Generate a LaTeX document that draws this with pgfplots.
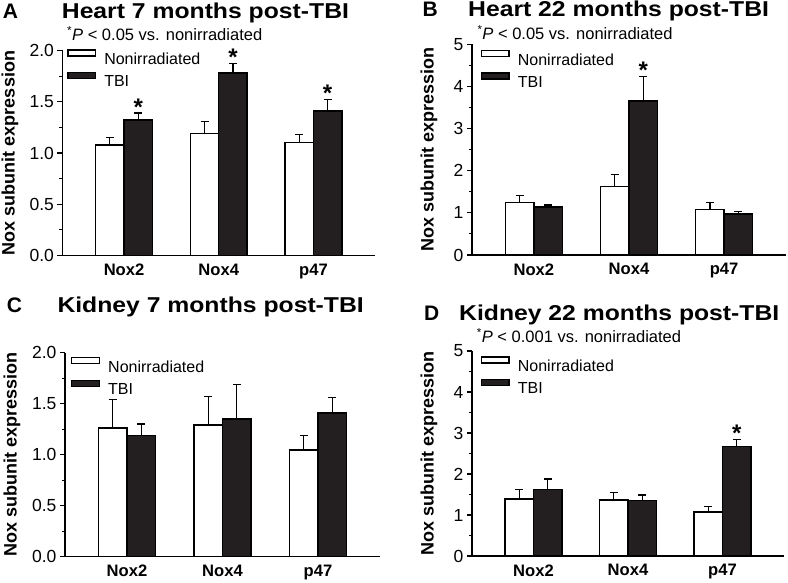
\documentclass[border=0pt]{standalone}
\usepackage{fontspec}
\setmainfont{Liberation Sans}
\newfontfamily\titlefont{Liberation Sans}[FakeStretch=1.15]
\usepackage{pgfplots}
\pgfplotsset{compat=1.18}
\definecolor{barblack}{HTML}{231F20}
\newcommand{\legfont}{\fontsize{16}{18}\selectfont}
\tikzset{starnode/.style={anchor=base, inner sep=0pt, yshift=-2pt, font=\fontsize{24}{24}\selectfont\bfseries}}
\pgfplotsset{
  noxaxis/.style={
    scale only axis,
    anchor=south west,
    axis x line*=bottom, axis y line*=left,
    axis line style={line width=1.2pt, -},
    xmin=0.35, xmax=3.65,
    xtick={1,2,3}, xticklabels={Nox2,Nox4,p47},
    x tick style={draw=none},
    xticklabel style={font=\fontsize{16.6}{18}\selectfont\bfseries},
    yticklabel style={font=\fontsize{17.5}{20}\selectfont},
    /pgf/number format/assume math mode=true,
    tick align=outside,
    major tick length=5pt, minor tick length=3pt,
    y tick style={line width=1.1pt, black},
    minor y tick num=1,
    ylabel={Nox subunit expression},
    ylabel style={font=\fontsize{18}{20}\selectfont\bfseries, anchor=center},
    ybar, bar width=0.3,
    ymin=0,
    clip=false,
    legend cell align=left,
    every axis legend/.style={draw=none, fill=none, anchor=north west, shape=rectangle,
      font=\legfont, inner sep=0pt,
      cells={anchor=west},
      nodes={inner sep=0pt, text height=11.5pt, text depth=0pt, font=\legfont},
      row sep=7.3pt,
      /tikz/every odd column/.append style={column sep=8.3pt}},
    error bars/y dir=plus, error bars/y explicit,
    error bars/error bar style={line width=1.3pt, black},
    error bars/error mark options={line width=1.3pt, mark size=4pt, rotate=90, black},
  },
  boxleg/.style={legend image code/.code={\path (0pt,0pt); \draw[##1, line width=1.3pt] (0pt,2.7pt) rectangle (27.5pt,8.7pt);}},
  nonirr/.style={fill=white, draw=black, line width=1.5pt, bar shift=-0.15, boxleg},
  tbi/.style={fill=barblack, draw=black, line width=1.5pt, bar shift=0.15, boxleg},
  fixy/.style={yticklabel style={/pgf/number format/.cd, fixed, fixed zerofill, precision=1}},
}
\newcommand{\ptitle}{\titlefont\bfseries\fontsize{21.5}{24}\selectfont}
\newcommand{\pletter}{\bfseries\fontsize{21}{24}\selectfont}
\newcommand{\pnote}{\fontsize{16.5}{18}\selectfont}
\begin{document}
\begin{tikzpicture}[x=1pt,y=1pt]
\useasboundingbox (0,0) rectangle (788,582);
% ---------------- A
\begin{axis}[noxaxis, fixy, at={(62.5pt,326.5pt)}, width=312.5pt, height=205pt,
  ymax=2, ytick={0,0.5,1,1.5,2},
  ylabel style={at={(axis description cs:-0.168,0.5)}},
  legend style={at={(axis description cs:0,1)}, xshift=4.4pt, yshift=1.2pt}]
\addplot[nonirr] coordinates {(1,1.08) +- (0,0.07) (2,1.19) +- (0,0.12) (3,1.10) +- (0,0.08)};
\addplot[tbi] coordinates {(1,1.32) +- (0,0.07) (2,1.78) +- (0,0.09) (3,1.41) +- (0,0.11)};
\legend{\legfont Nonirradiated,\legfont TBI}
\node[starnode] at (axis cs:1.15,1.39) {*};
\node[starnode] at (axis cs:2.15,1.87) {*};
\node[starnode] at (axis cs:3.15,1.52) {*};
\end{axis}
% ---------------- B
\begin{axis}[noxaxis, at={(472pt,327pt)}, width=314pt, height=210.7pt,
  ymax=5, ytick={0,1,2,3,4,5},
  ylabel style={at={(axis description cs:-0.137,0.5)}},
  legend style={at={(axis description cs:0,1)}, xshift=8.5pt, yshift=-5.5pt}]
\addplot[nonirr] coordinates {(1,1.25) +- (0,0.16) (2,1.63) +- (0,0.28) (3,1.085) +- (0,0.155)};
\addplot[tbi] coordinates {(1,1.14) +- (0,0.05) (2,3.66) +- (0,0.57) (3,0.97) +- (0,0.07)};
\legend{\legfont Nonirradiated,\legfont TBI}
\node[starnode] at (axis cs:2.15,4.23) {*};
\end{axis}
% ---------------- C
\begin{axis}[noxaxis, fixy, at={(65pt,25.3pt)}, width=315pt, height=204pt,
  ymax=2, ytick={0,0.5,1,1.5,2},
  ylabel style={at={(axis description cs:-0.168,0.5)}},
  legend style={at={(axis description cs:0,1)}, xshift=5.8pt, yshift=-4.2pt}]
\addplot[nonirr] coordinates {(1,1.26) +- (0,0.28) (2,1.29) +- (0,0.28) (3,1.046) +- (0,0.14)};
\addplot[tbi] coordinates {(1,1.19) +- (0,0.11) (2,1.35) +- (0,0.34) (3,1.41) +- (0,0.15)};
\legend{\legfont Nonirradiated,\legfont TBI}
\end{axis}
% ---------------- D
\begin{axis}[noxaxis, at={(472pt,26pt)}, width=312pt, height=205pt,
  ymax=5, ytick={0,1,2,3,4,5},
  ylabel style={at={(axis description cs:-0.138,0.5)}},
  legend style={at={(axis description cs:0,1)}, xshift=8.5pt, yshift=-5pt}]
\addplot[nonirr] coordinates {(1,1.39) +- (0,0.23) (2,1.365) +- (0,0.185) (3,1.07) +- (0,0.13)};
\addplot[tbi] coordinates {(1,1.62) +- (0,0.26) (2,1.35) +- (0,0.14) (3,2.67) +- (0,0.18)};
\legend{\legfont Nonirradiated,\legfont TBI}
\node[starnode] at (axis cs:3.15,2.85) {*};
\end{axis}
% ---------------- titles
\node[anchor=base west, inner sep=0pt, font=\pletter] at (2.7,563.7) {A};
\node[anchor=base west, inner sep=0pt, font=\ptitle] at (61.7,563.7) {Heart 7 months post-TBI};
\node[anchor=base west, inner sep=0pt, font=\pletter] at (422.3,565.3) {B};
\node[anchor=base west, inner sep=0pt, font=\ptitle] at (468,565.3) {Heart 22 months post-TBI};
\node[anchor=base west, inner sep=0pt, font=\pletter] at (6.7,269.3) {C};
\node[anchor=base west, inner sep=0pt, font=\ptitle] at (57.3,269.3) {Kidney 7 months post-TBI};
\node[anchor=base west, inner sep=0pt, font=\pletter] at (424,261.7) {D};
\node[anchor=base west, inner sep=0pt, font=\ptitle] at (459,261.7) {Kidney 22 months post-TBI};
% ---------------- p notes
\node[anchor=base west, inner sep=0pt, font=\pnote] at (67,541) {\textsuperscript{*}\textit{P} < 0.05 vs. nonirradiated};
\node[anchor=base west, inner sep=0pt, font=\pnote] at (477.3,542) {\textsuperscript{*}\textit{P} < 0.05 vs. nonirradiated};
\node[anchor=base west, inner sep=0pt, font=\pnote] at (476.7,239.3) {\textsuperscript{*}\textit{P} < 0.001 vs. nonirradiated};
\end{tikzpicture}
\end{document}
